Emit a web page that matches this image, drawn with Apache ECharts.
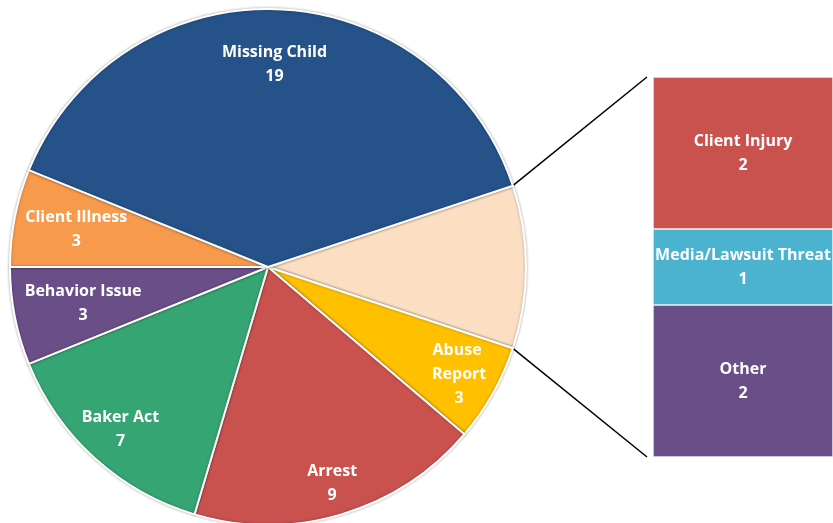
<!DOCTYPE html>
<html>
<head>
<meta charset="utf-8">
<script src="https://cdn.jsdelivr.net/npm/echarts@6/dist/echarts.min.js"></script>
<style>
  html, body { margin: 0; padding: 0; background: #fff; }
  #main { width: 833px; height: 523px; }
</style>
</head>
<body>
<div id="main"></div>
<script>
// pie slices (the first one is the "other" group split out into the bar)
var pieNames = ['', 'Abuse Report', 'Arrest', 'Baker Act', 'Behavior Issue', 'Client Illness', 'Missing Child'];
var pieColors = ['#FCDFC3', '#FFC000', '#C9524F', '#36A574', '#6A4E88', '#F89A4B', '#26528A'];
// bar breakdown of the small slice
var barNames = ['Client Injury', 'Media/Lawsuit Threat', 'Other'];
var barValues = [2, 1, 2];
var barColors = ['#C9524F', '#4BB3CF', '#6A4E88'];
var otherTotal = barValues.reduce(function (a, b) { return a + b; }, 0);
var pieValues = [otherTotal, 3, 9, 7, 3, 3, 19];

var total = pieValues.reduce(function (a, b) { return a + b; }, 0);
var startAngle = otherTotal / total * 180; // keep the split slice centred on 3 o'clock

var cx = 268, cy = 267, R = 258;
var FONT = '"Open Sans", Lato, sans-serif';
// small radial nudges (px) so labels sit like Excel's best-fit placement
var labelNudge = {
  'Missing Child': -7, 'Client Illness': -14, 'Behavior Issue': -21,
  'Baker Act': 10, 'Arrest': 16, 'Abuse Report': 10
};

var chart = echarts.init(document.getElementById('main'));

var pieData = pieNames.map(function (n, i) {
  return { name: n, value: pieValues[i], itemStyle: { color: pieColors[i] } };
});
var acc = 0;
var labelData = pieNames.map(function (n, i) {
  var mid = startAngle - (acc + pieValues[i] / 2) / total * 360;
  acc += pieValues[i];
  var t = mid * Math.PI / 180, k = labelNudge[n] || 0;
  var d = {
    name: n, value: pieValues[i],
    label: { show: n !== '', offset: [k * Math.cos(t), -k * Math.sin(t)] }
  };
  if (n === 'Abuse Report') {
    d.label.width = 60;
    d.label.overflow = 'break';
  }
  return d;
});

var series = [
  {
    type: 'pie',
    center: [cx, cy],
    radius: R,
    startAngle: startAngle,
    clockwise: true,
    silent: true,
    label: { show: false },
    labelLine: { show: false },
    itemStyle: {
      borderColor: '#ffffff',
      borderWidth: 2,
      shadowColor: 'rgba(0,0,0,0.3)',
      shadowBlur: 3
    },
    data: pieData,
    z: 1
  },
  // transparent ring that only positions the labels near the rim
  {
    type: 'pie',
    center: [cx, cy],
    radius: [R * 0.6, R],
    startAngle: startAngle,
    clockwise: true,
    silent: true,
    itemStyle: { color: 'rgba(0,0,0,0)' },
    label: {
      position: 'inside',
      formatter: '{b}\n{c}',
      color: '#ffffff',
      fontFamily: FONT,
      fontWeight: 'bold',
      fontSize: 16,
      lineHeight: 24
    },
    labelLine: { show: false },
    data: labelData,
    z: 2
  }
];

barNames.forEach(function (n, i) {
  series.push({
    type: 'bar',
    name: n,
    stack: 'split',
    barWidth: '100%',
    data: [barValues[i]],
    itemStyle: { color: barColors[i], borderColor: 'rgba(255,255,255,0.35)', borderWidth: 1 },
    label: {
      show: true,
      position: 'inside',
      formatter: n + '\n{c}',
      color: '#ffffff',
      fontFamily: FONT,
      fontWeight: 'bold',
      fontSize: 16,
      lineHeight: 24
    }
  });
});

var option = {
  animation: false,
  backgroundColor: '#ffffff',
  grid: { left: 653, top: 77, width: 192, height: 380 },
  xAxis: { type: 'category', data: ['split'], show: false },
  yAxis: { type: 'value', min: 0, max: otherTotal, inverse: true, show: false },
  series: series
};
chart.setOption(option);

// connector lines from the split slice edges to the bar corners
var a = startAngle * Math.PI / 180;
var topY = chart.convertToPixel({ yAxisIndex: 0 }, 0);
var botY = chart.convertToPixel({ yAxisIndex: 0 }, otherTotal);
var barLeft = chart.convertToPixel({ xAxisIndex: 0 }, 'split') - 96;
chart.setOption({
  graphic: [
    {
      type: 'line', z: 0,
      shape: { x1: cx + R * Math.cos(a), y1: cy - R * Math.sin(a), x2: barLeft, y2: topY },
      style: { stroke: '#000', lineWidth: 1.5 }
    },
    {
      type: 'line', z: 0,
      shape: { x1: cx + R * Math.cos(a), y1: cy + R * Math.sin(a), x2: barLeft, y2: botY },
      style: { stroke: '#000', lineWidth: 1.5 }
    }
  ]
});
</script>
</body>
</html>
